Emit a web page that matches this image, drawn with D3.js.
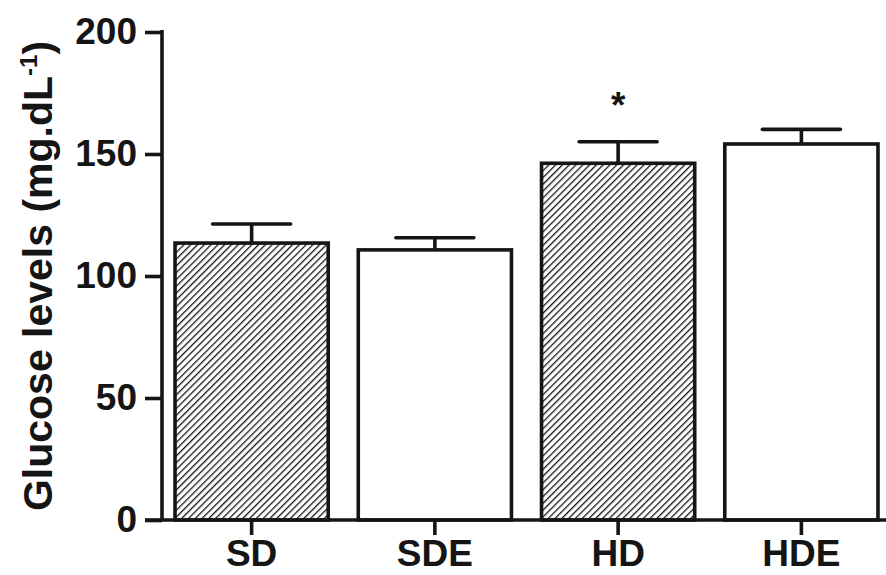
<!DOCTYPE html>
<html>
<head>
<meta charset="utf-8">
<script src="https://cdn.jsdelivr.net/npm/d3@7"></script>
<style>
  html, body { margin: 0; padding: 0; background: #fff; }
  svg { display: block; }
  text { font-family: "Liberation Sans", Arial, Helvetica, sans-serif; font-weight: bold; fill: #151515; }
</style>
</head>
<body>
<svg id="chart" width="886" height="575"></svg>
<script>
const categories = ["SD", "SDE", "HD", "HDE"];
const means = [113.5, 110.7, 146.2, 154.1];
const sems = [7.8, 5.0, 8.8, 6.0];
const hatched = [true, false, true, false];
const significance = ["", "", "*", ""];
const yTicks = [0, 50, 100, 150, 200];

const svg = d3.select("#chart");
const ink = "#151515";

const defs = svg.append("defs");
defs.append("pattern")
  .attr("id", "hatch")
  .attr("patternUnits", "userSpaceOnUse")
  .attr("width", 4.8).attr("height", 4.8)
  .attr("patternTransform", "rotate(45)")
  .append("line")
  .attr("x1", 0).attr("y1", 0).attr("x2", 0).attr("y2", 4.8)
  .attr("stroke", ink).attr("stroke-width", 2.6);

const axisX = 162;
const y = d3.scaleLinear().domain([0, 200]).range([520, 32]);
const x = d3.scaleBand().domain(categories).range([149, 904]).paddingInner(0.164).paddingOuter(0.142);

// bars
const g = svg.append("g");
categories.forEach((c, i) => {
  g.append("rect")
    .attr("x", x(c))
    .attr("y", y(means[i]))
    .attr("width", x.bandwidth())
    .attr("height", y(0) - y(means[i]))
    .attr("fill", hatched[i] ? "url(#hatch)" : "#fff")
    .attr("stroke", ink)
    .attr("stroke-width", 3.6);
  const cx = x(c) + x.bandwidth() / 2;
  // error bar (upper only)
  g.append("line")
    .attr("x1", cx).attr("x2", cx)
    .attr("y1", y(means[i])).attr("y2", y(means[i] + sems[i]))
    .attr("stroke", ink).attr("stroke-width", 3.6);
  g.append("line")
    .attr("x1", cx - 39).attr("x2", cx + 39)
    .attr("y1", y(means[i] + sems[i])).attr("y2", y(means[i] + sems[i]))
    .attr("stroke", ink).attr("stroke-width", 3.6).attr("stroke-linecap", "round");
  if (significance[i]) {
    g.append("text")
      .attr("x", cx)
      .attr("y", 118)
      .attr("text-anchor", "middle")
      .style("font-size", "37px")
      .text(significance[i]);
  }
});

// y axis
const yAxis = svg.append("g")
  .attr("transform", `translate(${axisX},0)`)
  .call(d3.axisLeft(y).tickValues(yTicks).tickSize(17).tickPadding(8).tickSizeOuter(0));
yAxis.select(".domain").attr("stroke", ink).attr("stroke-width", 3.6)
  .attr("d", `M0,${y(200) - 2}V${y(0)}`);
yAxis.selectAll(".tick line").attr("stroke", ink).attr("stroke-width", 3.6);
yAxis.selectAll(".tick text").style("font-size", "37px").attr("fill", ink)
  .attr("font-family", null).attr("font-size", null);

// x axis
const xAxis = svg.append("g")
  .attr("transform", `translate(0,${y(0)})`)
  .call(d3.axisBottom(x).tickSize(15).tickPadding(5).tickSizeOuter(0));
xAxis.select(".domain").attr("stroke", ink).attr("stroke-width", 3.6)
  .attr("d", `M${axisX - 17},0H886`);
xAxis.selectAll(".tick line").attr("stroke", ink).attr("stroke-width", 3.6);
xAxis.selectAll(".tick text").style("font-size", "37px").attr("fill", ink)
  .attr("font-family", null).attr("font-size", null);

// y title
const title = svg.append("text")
  .attr("transform", "translate(52,276) rotate(-90)")
  .attr("text-anchor", "middle")
  .style("font-size", "41px");
title.append("tspan").text("Glucose levels (mg.dL");
title.append("tspan").attr("dy", -15).style("font-size", "24px").text("-1");
title.append("tspan").attr("dy", 15).text(")");
</script>
</body>
</html>
